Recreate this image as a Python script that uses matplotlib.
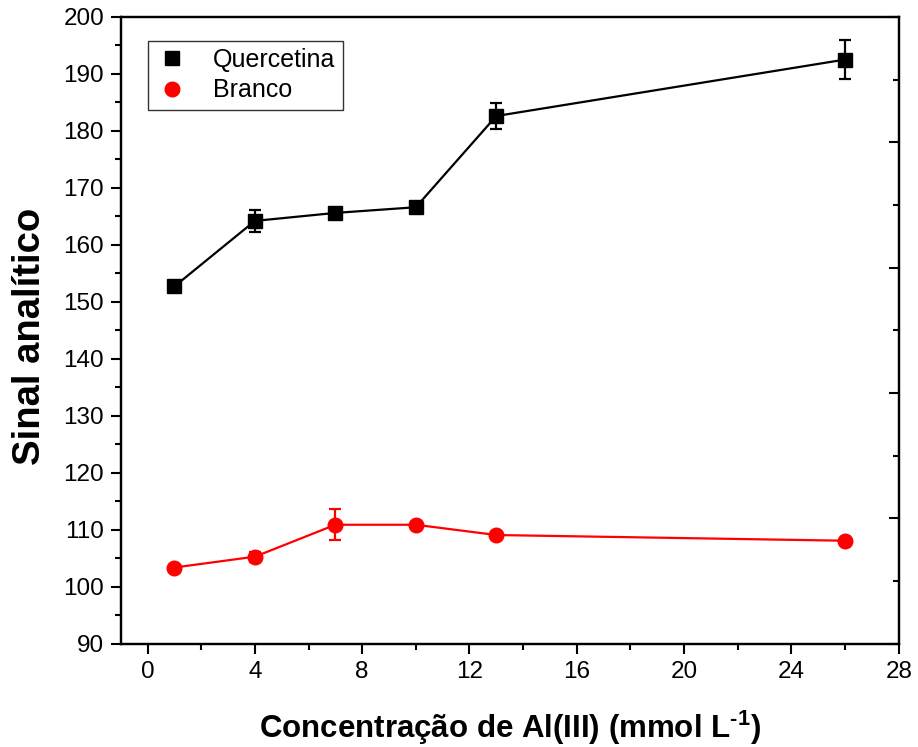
import numpy as np
import matplotlib.pyplot as plt
from matplotlib.ticker import MultipleLocator

plt.rcParams["font.family"] = ["Liberation Sans", "DejaVu Sans"]
plt.rcParams["mathtext.fontset"] = "custom"
plt.rcParams["mathtext.rm"] = "Liberation Sans:bold"
plt.rcParams["mathtext.bf"] = "Liberation Sans:bold"

# data
conc = [1, 4, 7, 10, 13, 26]
quercetina = [152.7, 164.2, 165.6, 166.6, 182.6, 192.5]
quercetina_err = [0.4, 1.9, 0.5, 0.5, 2.3, 3.4]
branco = [103.4, 105.3, 110.9, 110.9, 109.1, 108.1]
branco_err = [0.5, 0.9, 2.7, 0.4, 0.5, 0.3]

fig = plt.figure(figsize=(9.18, 7.47), dpi=100)
ax = fig.add_axes([0.1315, 0.138, 0.8475, 0.8395])

ax.errorbar(conc, quercetina, yerr=quercetina_err, color="black", marker="s",
            markersize=10, linewidth=1.6, capsize=4.5, capthick=1.6,
            elinewidth=1.6, label="Quercetina")
ax.errorbar(conc, branco, yerr=branco_err, color="red", marker="o",
            markersize=10.5, linewidth=1.6, capsize=4.5, capthick=1.6,
            elinewidth=1.6, label="Branco")

ax.set_xlim(-1, 28)
ax.set_ylim(90, 200)
ax.xaxis.set_major_locator(MultipleLocator(4))
ax.xaxis.set_minor_locator(MultipleLocator(2))
ax.yaxis.set_major_locator(MultipleLocator(10))
ax.yaxis.set_minor_locator(MultipleLocator(5))
ax.tick_params(which="major", direction="out", length=7, width=1.5,
               labelsize=17.5, pad=5)
ax.tick_params(which="minor", direction="out", length=4, width=1.5)
ax.tick_params(top=False, right=False)
for s in ax.spines.values():
    s.set_linewidth(1.6)

# right side ticks of the Origin-style frame (no labels)
ax2 = ax.twinx()
ax2.set_ylim(0, 10)
ax2.yaxis.set_major_locator(MultipleLocator(2))
ax2.yaxis.set_minor_locator(MultipleLocator(1))
ax2.tick_params(which="major", direction="in", length=7, width=1.5,
                labelright=False)
ax2.tick_params(which="minor", direction="in", length=4, width=1.5)
for s in ax2.spines.values():
    s.set_linewidth(1.6)

ax.set_xlabel("Concentração de Al(III) (mmol L$^{\\text{-1}}$)",
              fontsize=22.5, fontweight="bold", va="center")
ax.xaxis.set_label_coords(0.5, -0.134)
ax.set_ylabel("Sinal analítico", fontsize=27.5, fontweight="bold", va="center")
ax.yaxis.set_label_coords(-0.1165, 0.49)

handles, labels = ax.get_legend_handles_labels()
handles = [h[0] for h in handles]
leg = ax.legend(handles, labels, loc="upper left", bbox_to_anchor=(0.035, 0.962),
                fontsize=18, frameon=True, fancybox=False, edgecolor="black",
                handlelength=1.3, handletextpad=1.0, borderpad=0.3,
                labelspacing=0.25, borderaxespad=0)
for h in leg.legend_handles:
    h.set_linestyle("None")
leg.get_frame().set_linewidth(1.0)

fig.savefig("out.png", dpi=100)
